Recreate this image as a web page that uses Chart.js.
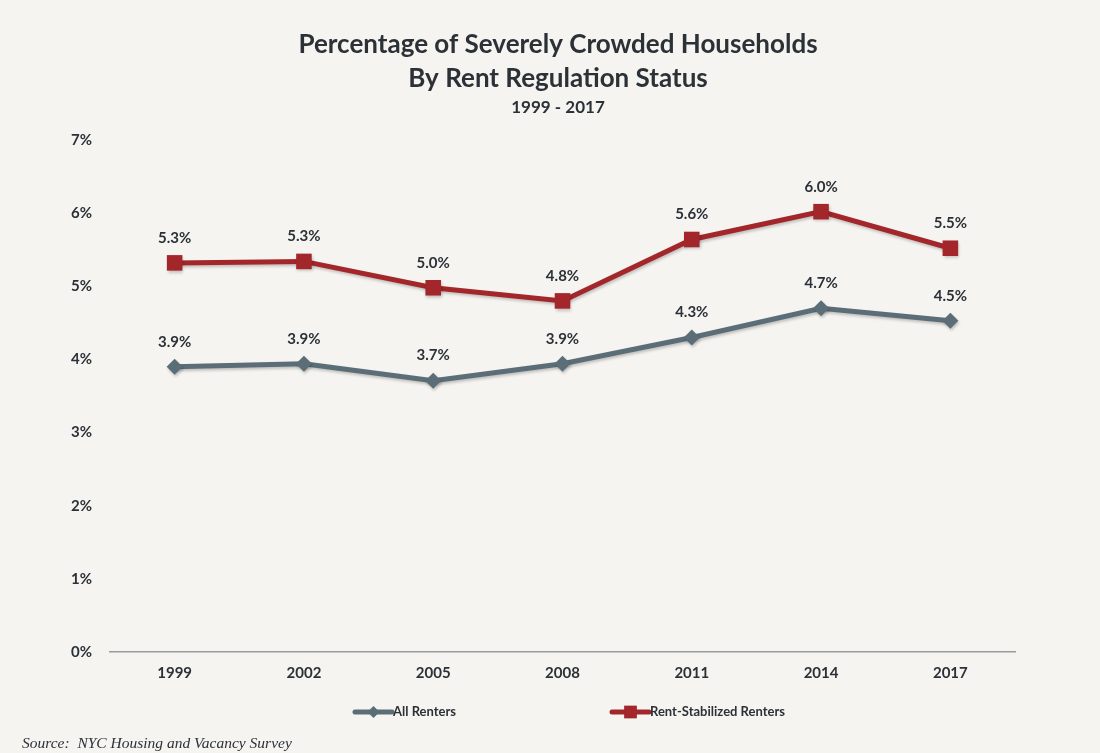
<!DOCTYPE html>
<html><head><meta charset="utf-8">
<script src="https://cdn.jsdelivr.net/npm/chart.js@4.4.1/dist/chart.umd.min.js"></script>
<style>html,body{margin:0;padding:0;background:#f5f4f0;}#wrap{width:1100px;height:753px;position:relative}</style>
</head><body><div id="wrap"><canvas id="c" width="1100" height="753" style="width:1100px;height:753px"></canvas></div>
<script>
const years = ['1999','2002','2005','2008','2011','2014','2017'];
const allRenters = [3.90, 3.94, 3.71, 3.94, 4.30, 4.70, 4.53];
const rentStabilized = [5.32, 5.34, 4.98, 4.80, 5.64, 6.02, 5.52];
const seriesNames = ['All Renters', 'Rent-Stabilized Renters'];
const yMin = 0, yMax = 7, yStep = 1;
const titleLines = ['Percentage of Severely Crowded Households', 'By Rent Regulation Status'];
const subtitleText = '1999 - 2017';
const sourceText = 'Source:  NYC Housing and Vacancy Survey';

const GRAY = '#5b6d77', RED = '#a3262a', TEXT = '#2b3137', FONT = 'Lato';

function drawMarker(ctx, style, x, y, r, color) {
  ctx.fillStyle = color;
  ctx.beginPath();
  if (style === 'rect') {
    const s = r * Math.SQRT1_2;
    ctx.rect(x - s, y - s, 2 * s, 2 * s);
  } else {
    ctx.moveTo(x, y - r); ctx.lineTo(x + r, y); ctx.lineTo(x, y + r); ctx.lineTo(x - r, y); ctx.closePath();
  }
  ctx.fill();
}

const shadowPlugin = {
  id: 'shadow',
  beforeDatasetsDraw(chart) {
    const ctx = chart.ctx; ctx.save();
    ctx.shadowColor = 'rgba(0,0,0,0.22)'; ctx.shadowBlur = 3; ctx.shadowOffsetX = 1; ctx.shadowOffsetY = 2;
  },
  afterDatasetsDraw(chart) { chart.ctx.restore(); }
};

const labelPlugin = {
  id: 'valueLabels',
  afterDatasetsDraw(chart) {
    const ctx = chart.ctx; ctx.save();
    ctx.font = 'bold 15px ' + FONT; ctx.fillStyle = TEXT; ctx.textAlign = 'center'; ctx.textBaseline = 'middle';
    chart.data.datasets.forEach((ds, i) => {
      chart.getDatasetMeta(i).data.forEach((pt, j) => {
        ctx.fillText(ds.data[j].toFixed(1) + '%', pt.x, pt.y - 25);
      });
    });
    ctx.restore();
  }
};

const legendPlugin = {
  id: 'customLegend',
  afterDraw(chart) {
    const ctx = chart.ctx; ctx.save();
    const starts = [355, 612], y = 712;
    ctx.font = 'bold 13px ' + FONT; ctx.textBaseline = 'middle'; ctx.textAlign = 'left';
    chart.data.datasets.forEach((ds, i) => {
      const x0 = starts[i], x1 = x0 + 37;
      ctx.strokeStyle = ds.borderColor; ctx.lineWidth = 5; ctx.lineCap = 'round';
      ctx.beginPath(); ctx.moveTo(x0, y); ctx.lineTo(x1, y); ctx.stroke();
      drawMarker(ctx, ds.pointStyle, (x0 + x1) / 2, y, ds.pointStyle === 'rect' ? 9 : 6, ds.borderColor);
      ctx.fillStyle = TEXT; ctx.fillText(ds.label, x1 + 1, y);
    });
    ctx.font = 'italic 15.5px "Liberation Serif"'; ctx.fillStyle = TEXT;
    ctx.fillText(sourceText, 22, 744);
    ctx.restore();
  }
};

const bgPlugin = {
  id: 'bg',
  beforeDraw(chart) {
    const ctx = chart.ctx; ctx.save(); ctx.fillStyle = '#f5f4f0'; ctx.fillRect(0, 0, chart.width, chart.height); ctx.restore();
  }
};

new Chart(document.getElementById('c'), {
  type: 'line',
  data: {
    labels: years,
    datasets: [
      { label: seriesNames[0], data: allRenters, borderColor: GRAY, backgroundColor: GRAY, borderWidth: 5,
        pointStyle: 'rectRot', pointRadius: 8, pointBackgroundColor: GRAY, pointBorderWidth: 0, tension: 0 },
      { label: seriesNames[1], data: rentStabilized, borderColor: RED, backgroundColor: RED, borderWidth: 5,
        pointStyle: 'rect', pointRadius: 11, pointBackgroundColor: RED, pointBorderWidth: 0, tension: 0 }
    ]
  },
  options: {
    responsive: false, animation: false, devicePixelRatio: 1,
    layout: { padding: { top: 0, right: 0, bottom: 61, left: 16 } },
    plugins: {
      legend: { display: false },
      tooltip: { enabled: false },
      title: { display: true, text: titleLines, color: TEXT,
        font: { family: FONT, size: 26, weight: 'bold', lineHeight: 1.3 }, padding: { top: 28, bottom: 0 } },
      subtitle: { display: true, text: subtitleText, color: TEXT,
        font: { family: FONT, size: 17, weight: 'bold', lineHeight: 1.2 }, padding: { top: 2, bottom: 22 } }
    },
    scales: {
      x: {
        offset: true,
        grid: { display: false, drawTicks: false },
        border: { display: true, color: '#9a9a9a', width: 1.5 },
        ticks: { color: TEXT, font: { family: FONT, size: 15, weight: 'bold' }, padding: 12 },
        afterFit(s) { s.height = 40; }
      },
      y: {
        min: yMin, max: yMax,
        grid: { display: false, drawTicks: false },
        border: { display: false },
        ticks: { stepSize: yStep, color: TEXT, font: { family: FONT, size: 15, weight: 'bold' }, padding: 18,
          callback: v => v + '%' },
        afterFit(s) { s.width = 94; }
      },
      yRight: {
        position: 'right', min: yMin, max: yMax,
        grid: { display: false, drawTicks: false },
        border: { display: false },
        ticks: { display: false },
        afterFit(s) { s.width = 85; }
      }
    }
  },
  plugins: [bgPlugin, shadowPlugin, labelPlugin, legendPlugin]
});
</script></body></html>
